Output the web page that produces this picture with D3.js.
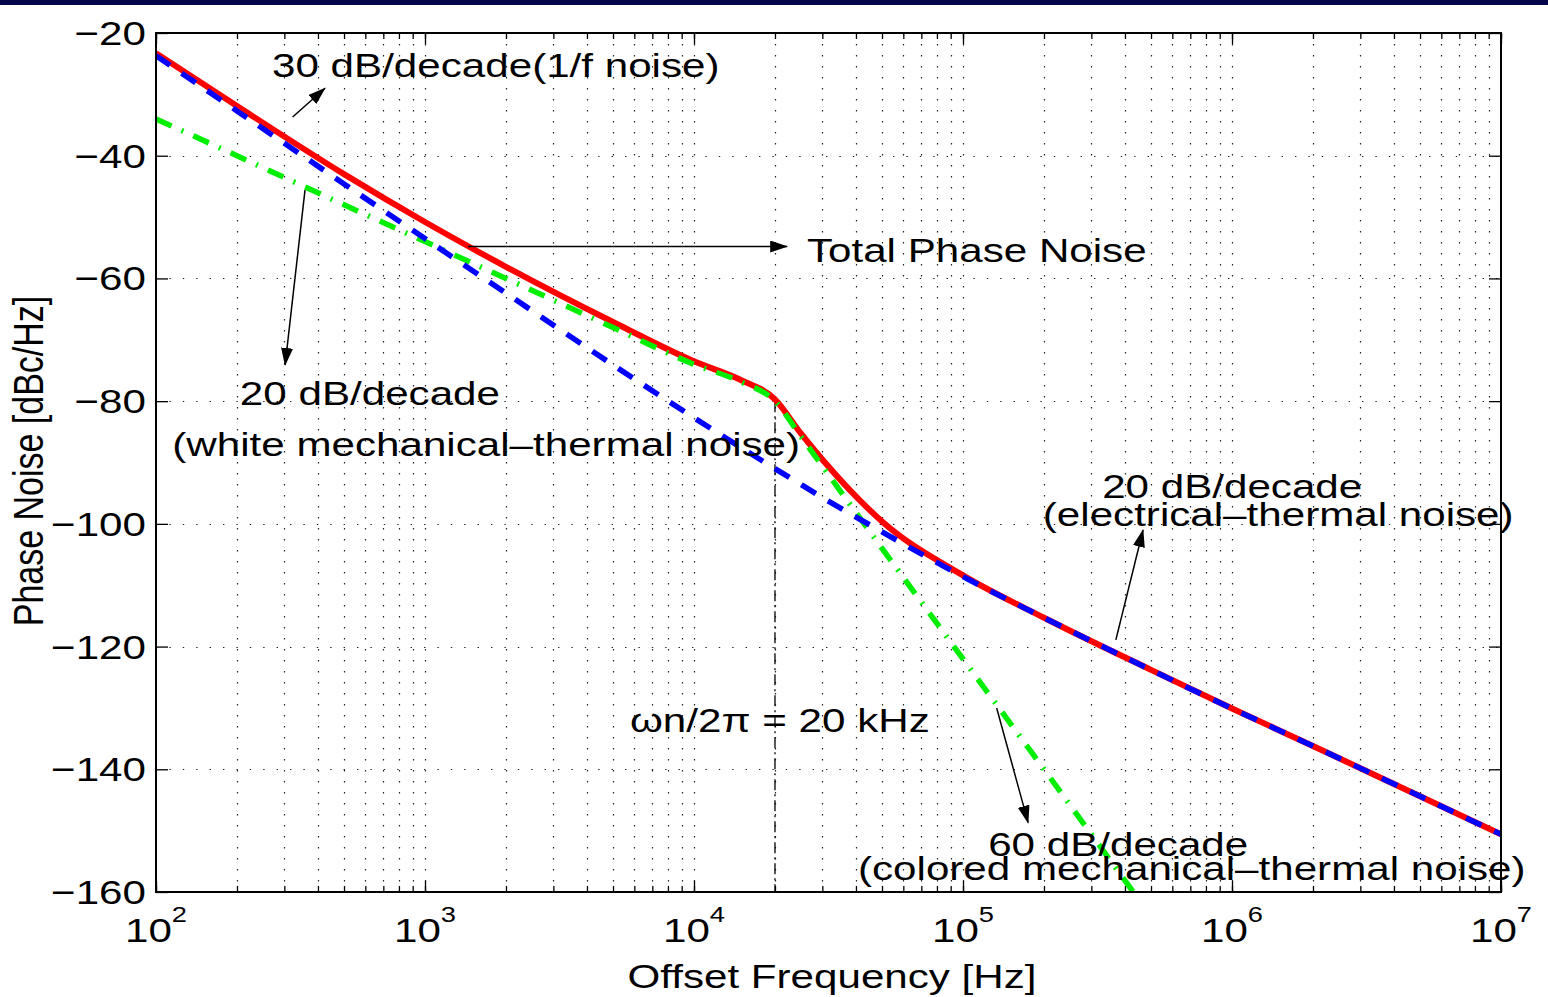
<!DOCTYPE html>
<html>
<head>
<meta charset="utf-8">
<script src="https://cdn.jsdelivr.net/npm/d3@7"></script>
<style>
  body { margin: 0; background: #fff; }
  text { font-family: "Liberation Sans", Arial, sans-serif; fill: #000; }
</style>
</head>
<body>
<svg id="chart" width="1548" height="997"></svg>
<script>
// offset frequencies (Hz) the curves were read at
const freqs = [1e2, 2e2, 5e2, 1e3, 2e3, 5e3, 1e4, 1.5e4, 2e4, 2.5e4, 3e4, 5e4, 1e5, 2e5, 5e5, 1e6, 2e6, 5e6, 1e7]

// phase noise in dBc/Hz
const totalNoise = [-23.3, -31.9, -43.0, -50.8, -58.1, -67.1, -73.5, -76.6, -79.7, -85.3, -89.5, -99.6, -108.4, -115.3, -123.8, -130.1, -136.2, -144.4, -150.6]
const electricalNoise = [-23.7, -32.7, -44.6, -53.5, -62.4, -74.1, -82.7, -87.6, -91.0, -93.6, -95.7, -101.3, -108.6, -115.3, -123.8, -130.1, -136.2, -144.4, -150.6]
const mechanicalNoise = [-34.0, -40.0, -48.0, -54.0, -60.0, -68.0, -74.0, -76.9, -80.0, -85.8, -90.6, -104.0, -122.0, -140.0, -164.0, null, null, null, null]

// axis ticks
const xMajor = [1e2, 1e3, 1e4, 1e5, 1e6, 1e7]
const xExponents = ['2', '3', '4', '5', '6', '7']
const yTicks = [-20, -40, -60, -80, -100, -120, -140, -160]

// natural frequency marker
const wnFreq = 2e4
const wnLevel = -80

// annotations, in data coordinates (Hz, dB)
const notes = [
  {text: '30 dB/decade(1/f noise)', f: 270, db: -27.2},
  {text: 'Total Phase Noise', f: 26300, db: -57.3},
  {text: '20 dB/decade', f: 205, db: -80.6},
  {text: '(white mechanical\u2013thermal noise)', f: 115, db: -88.9},
  {text: '20 dB/decade', f: 3.29e5, db: -95.8},
  {text: '(electrical\u2013thermal noise)', f: 1.98e5, db: -100.3},
  {text: '\u03c9n/2\u03c0 = 20 kHz', f: 5780, db: -133.9},
  {text: '60 dB/decade', f: 1.24e5, db: -154.1},
  {text: '(colored mechanical\u2013thermal noise)', f: 4.07e4, db: -158.1}
]
const arrows = [
  {from: [322, -33.7], to: [425, -29.0]},
  {from: [1445, -54.8], to: [22200, -54.8]},
  {from: [358, -45.6], to: [302, -74.1]},
  {from: [3.70e5, -118.9], to: [4.67e5, -101.0]},
  {from: [1.334e5, -130.0], to: [1.746e5, -148.7]}
]

/**
 * Layout
 */
const plotLeft = 156, plotRight = 1501, plotTop = 33, plotBottom = 892
const FS = 34        // font size
const SX = 1.24      // the figure is stretched horizontally

const svg = d3.select('#chart')
const x = d3.scaleLog().domain([1e2, 1e7]).range([plotLeft, plotRight])
const y = d3.scaleLinear().domain([-160, -20]).range([plotBottom, plotTop])

// title bar strip
svg.append('rect').attr('x', 0).attr('y', 0).attr('width', 1548).attr('height', 5).attr('fill', '#06064a')

let defs = svg.append('defs')
defs.append('clipPath').attr('id', 'plot-clip')
  .append('rect').attr('x', plotLeft).attr('y', plotTop)
  .attr('width', plotRight - plotLeft).attr('height', plotBottom - plotTop)

defs.append('marker')
  .attr('id', 'head')
  .attr('markerUnits', 'userSpaceOnUse')
  .attr('markerWidth', 18).attr('markerHeight', 12)
  .attr('refX', 17).attr('refY', 6)
  .attr('orient', 'auto')
  .append('path').attr('d', 'M0,0 L18,6 L0,12 Z').attr('fill', '#000')

/**
 * Grid
 */
let grid = svg.append('g').attr('stroke', '#222').attr('stroke-width', 1.2)
grid.selectAll('.vgrid')
  .data(x.ticks().filter((f) => f > 1e2 && f < 1e7))
  .join('line')
  .classed('vgrid', true)
  .attr('x1', (f) => Math.round(x(f)) + 0.5)
  .attr('x2', (f) => Math.round(x(f)) + 0.5)
  .attr('y1', plotTop).attr('y2', plotBottom)
  .attr('stroke-dasharray', '1.4,9.6')
grid.selectAll('.hgrid')
  .data(yTicks.filter((v) => v > -160 && v < -20))
  .join('line')
  .classed('hgrid', true)
  .attr('x1', plotLeft).attr('x2', plotRight)
  .attr('y1', (v) => Math.round(y(v)) + 0.5)
  .attr('y2', (v) => Math.round(y(v)) + 0.5)
  .attr('stroke-dasharray', '1.4,12')

/**
 * Ticks (inward, on all four sides)
 */
function ticks (axis, tx, ty) {
  svg.append('g')
    .attr('transform', `translate(${tx},${ty})`)
    .call(axis.tickFormat(''))
    .call((g) => g.select('.domain').remove())
    .call((g) => g.selectAll('line').attr('stroke', '#000').attr('stroke-width', 1.3))
}
ticks(d3.axisBottom(x).tickValues(x.ticks()).tickSize(-6), 0, plotBottom)
ticks(d3.axisBottom(x).tickValues(xMajor).tickSize(-11), 0, plotBottom)
ticks(d3.axisTop(x).tickValues(x.ticks()).tickSize(-6), 0, plotTop)
ticks(d3.axisTop(x).tickValues(xMajor).tickSize(-11), 0, plotTop)
ticks(d3.axisLeft(y).tickValues(yTicks).tickSize(-12), plotLeft, 0)
ticks(d3.axisRight(y).tickValues(yTicks).tickSize(-12), plotRight, 0)

/**
 * Curves
 */
let plot = svg.append('g').attr('clip-path', 'url(#plot-clip)')

// omega_n marker
plot.append('line')
  .attr('x1', x(wnFreq)).attr('x2', x(wnFreq))
  .attr('y1', y(wnLevel)).attr('y2', plotBottom)
  .attr('stroke', '#000').attr('stroke-width', 1.3)
  .attr('stroke-dasharray', '11,4,2,4')

const line = d3.line()
  .defined((d) => d[1] != null)
  .x((d) => x(d[0]))
  .y((d) => y(d[1]))
  .curve(d3.curveMonotoneX)

const series = [
  {values: totalNoise, color: '#ff0000', width: 6, dash: null},
  {values: mechanicalNoise, color: '#00ee00', width: 5.5, dash: '17,11,2,11'},
  {values: electricalNoise, color: '#0000ff', width: 5.5, dash: '17,14'}
]
plot.selectAll('.curve')
  .data(series)
  .join('path')
  .classed('curve', true)
  .attr('d', (s) => line(freqs.map((f, i) => [f, s.values[i]])))
  .attr('fill', 'none')
  .attr('stroke', (s) => s.color)
  .attr('stroke-width', (s) => s.width)
  .attr('stroke-dasharray', (s) => s.dash)

// axes box
svg.append('rect')
  .attr('x', plotLeft).attr('y', plotTop)
  .attr('width', plotRight - plotLeft).attr('height', plotBottom - plotTop)
  .attr('fill', 'none').attr('stroke', '#000').attr('stroke-width', 2)

/**
 * Text
 */
function label (px, py, str, anchor, size) {
  return svg.append('text')
    .attr('transform', `translate(${px},${py}) scale(${SX},1)`)
    .attr('text-anchor', anchor || 'start')
    .style('font-size', (size || FS) + 'px')
    .text(str)
}

yTicks.forEach((v) => label(146, y(v) + 12, '\u2212' + Math.abs(v), 'end'))

xMajor.forEach((f, i) => {
  let t = label(x(f), 942, '10', 'middle')
  t.append('tspan').attr('dy', -20).style('font-size', '22px').text(xExponents[i])
})

label(832, 988, 'Offset Frequency [Hz]', 'middle')

svg.append('text')
  .attr('transform', `translate(43,461) scale(${SX},1) rotate(-90)`)
  .attr('text-anchor', 'middle')
  .style('font-size', FS + 'px')
  .text('Phase Noise [dBc/Hz]')

notes.forEach((n) => label(x(n.f), y(n.db), n.text))

svg.append('g').selectAll('line')
  .data(arrows)
  .join('line')
  .attr('x1', (a) => x(a.from[0])).attr('y1', (a) => y(a.from[1]))
  .attr('x2', (a) => x(a.to[0])).attr('y2', (a) => y(a.to[1]))
  .attr('stroke', '#000').attr('stroke-width', 1.5)
  .attr('marker-end', 'url(#head)')
</script>
</body>
</html>
